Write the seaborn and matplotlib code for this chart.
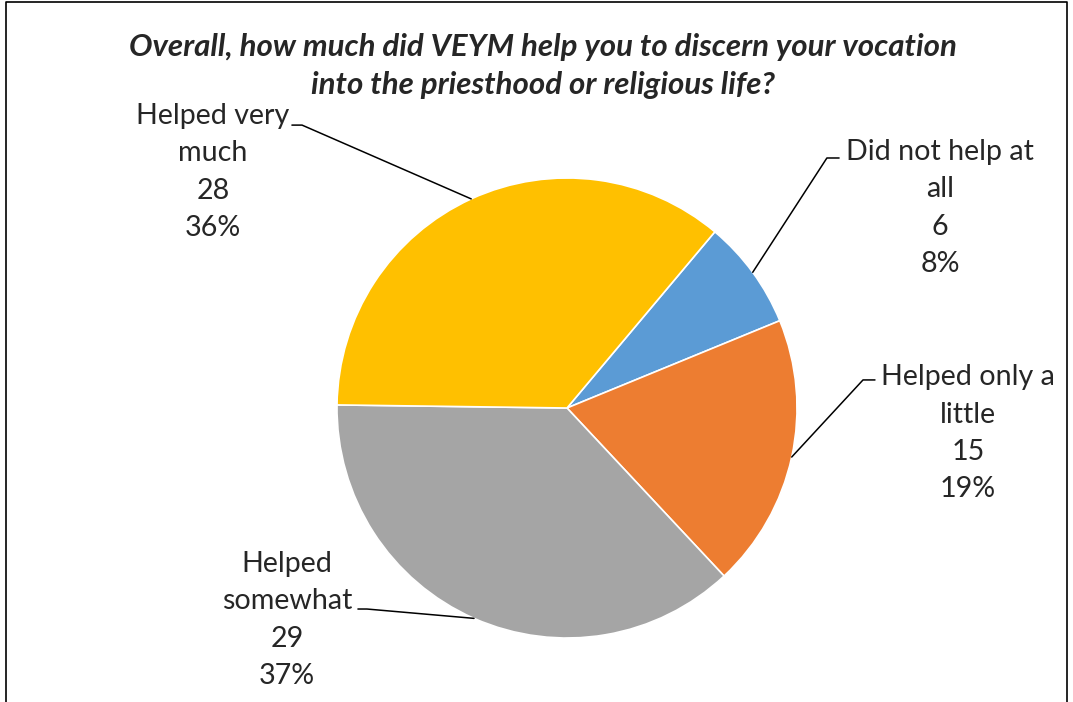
import numpy as np
import matplotlib
matplotlib.use("Agg")
import matplotlib.pyplot as plt
from matplotlib.lines import Line2D
import seaborn as sns

# data
categories = ["Did not help at\nall", "Helped only a\nlittle", "Helped\nsomewhat", "Helped very\nmuch"]
counts = [6, 15, 29, 28]
percents = ["8%", "19%", "37%", "36%"]
colors = ["#5B9BD5", "#ED7D31", "#A5A5A5", "#FFC000"]

title = ("Overall, how much did VEYM help you to discern your vocation\n"
         "into the priesthood or religious life?")

# label layout (axes data units, pie radius = 1)
label_pos = [(1.622, 0.870), (1.743, -0.110), (-1.217, -0.922), (-1.539, 1.026)]
elbow_pos = [(1.130, 1.087), (1.287, 0.122), (-0.870, -0.874), (-1.152, 1.230)]
stub_pos = [(1.183, 1.087), (1.339, 0.122), (-0.909, -0.874), (-1.196, 1.230)]

sns.set_style("white")
plt.rcParams["font.family"] = ["Lato", "DejaVu Sans"]

W, H = 1073, 702
fig = plt.figure(figsize=(W / 100, H / 100), dpi=100)
fig.patch.set_facecolor("white")

cx, cy, r = 567, 408, 230
ax = fig.add_axes([(cx - r) / W, (H - cy - r) / H, 2 * r / W, 2 * r / H])
wedges, _ = ax.pie(counts, colors=colors, startangle=50, counterclock=False,
                   radius=1, wedgeprops={"edgecolor": "white", "linewidth": 1.2})
ax.set_xlim(-1, 1)
ax.set_ylim(-1, 1)
ax.set_aspect("equal")
ax.axis("off")

for i, w in enumerate(wedges):
    mid = np.deg2rad((w.theta1 + w.theta2) / 2)
    tip = (np.cos(mid), np.sin(mid))
    ex, ey = elbow_pos[i]
    sx, sy = stub_pos[i]
    ax.plot([tip[0], ex, sx], [tip[1], ey, sy], color="black", lw=1.1, clip_on=False)
    txt = "{}\n{}\n{}".format(categories[i], counts[i], percents[i])
    ax.text(label_pos[i][0], label_pos[i][1], txt, ha="center", va="center",
            fontsize=20.6, linespacing=1.54, clip_on=False)

fig.text(543 / W, 1 - 66 / H, title, ha="center", va="center", fontsize=22.5,
         fontweight="bold", fontstyle="italic", linespacing=1.4)

# chart frame
fx0, fx1, fy1 = 6 / W, 1067 / W, 1 - 2 / H
fig.add_artist(Line2D([fx0, fx0, fx1, fx1], [0, fy1, fy1, 0], color="black",
                      lw=1.2, transform=fig.transFigure))

fig.savefig("out.png", dpi=100)
